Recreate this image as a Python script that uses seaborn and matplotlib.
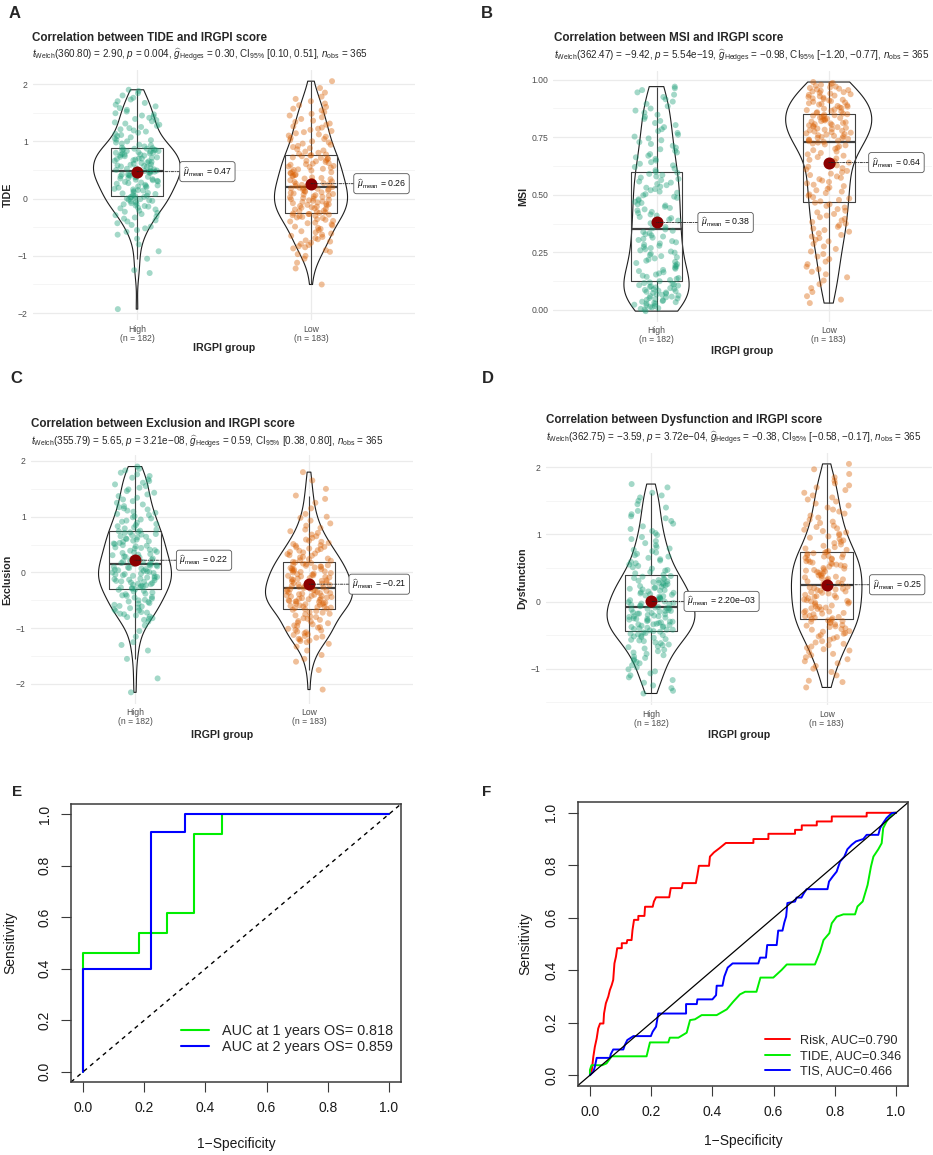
import numpy as np
import pandas as pd
import matplotlib
matplotlib.use("Agg")
import matplotlib.pyplot as plt
from matplotlib.ticker import MultipleLocator, FormatStrFormatter
import seaborn as sns

# ---------------- data ----------------
groups = ["High", "Low"]
group_ticks = ["High\n(n = 182)", "Low\n(n = 183)"]
group_colors = {"High": "#1B9E77", "Low": "#D95F02"}

# panel A: TIDE
tide_high = [-1.93, -1.30, -1.25, -1.05, -0.92, -0.80, -0.70, -0.63, -0.58, -0.55, -0.52, -0.49,
             -0.46, -0.43, -0.40, -0.38, -0.35, -0.33, -0.31, -0.29, -0.27, -0.25, -0.23, -0.21,
             -0.19, -0.17, -0.16, -0.14, -0.13, -0.12, -0.10, -0.09, -0.08, -0.06, -0.05, -0.04,
             -0.03, -0.02, -0.01, 0.00, 0.01, 0.02, 0.03, 0.03, 0.04,
             0.05, 0.06, 0.08, 0.09, 0.10, 0.11, 0.13, 0.14, 0.15, 0.16, 0.17, 0.19, 0.20, 0.21,
             0.22, 0.23, 0.24, 0.26, 0.27, 0.28, 0.29, 0.30, 0.31, 0.32, 0.33, 0.34, 0.35, 0.36,
             0.37, 0.38, 0.38, 0.39, 0.40, 0.41, 0.42, 0.42, 0.43, 0.44, 0.45, 0.45, 0.46, 0.46,
             0.47, 0.47, 0.48, 0.48,
             0.49, 0.50, 0.51, 0.52, 0.53, 0.54, 0.55, 0.56, 0.57, 0.58, 0.59, 0.60, 0.61, 0.62,
             0.63, 0.64, 0.65, 0.66, 0.67, 0.68, 0.69, 0.70, 0.70, 0.71, 0.72, 0.73, 0.74, 0.75,
             0.76, 0.77, 0.77, 0.78, 0.79, 0.80, 0.80, 0.81, 0.82, 0.83, 0.83, 0.84, 0.85, 0.85,
             0.86, 0.87, 0.87, 0.88,
             0.89, 0.91, 0.93, 0.94, 0.96, 0.98, 1.00, 1.02, 1.03, 1.05, 1.07, 1.09, 1.11, 1.13,
             1.15, 1.17, 1.19, 1.21, 1.23, 1.25, 1.27, 1.29, 1.31, 1.33, 1.35, 1.37, 1.39, 1.41,
             1.43, 1.45, 1.47, 1.49, 1.52, 1.55, 1.58, 1.61, 1.64, 1.67, 1.70, 1.73, 1.76, 1.80,
             1.84, 1.88, 1.90]
tide_low = [-1.50, -1.22, -1.12, -1.05, -1.00, -0.97, -0.93, -0.90, -0.87, -0.85, -0.83, -0.81,
            -0.79, -0.77, -0.75, -0.73, -0.71, -0.69, -0.67, -0.65, -0.63, -0.61, -0.59, -0.57,
            -0.55, -0.53, -0.51, -0.49, -0.47, -0.45, -0.43, -0.42, -0.40, -0.39, -0.37, -0.36,
            -0.34, -0.33, -0.32, -0.31, -0.30, -0.29, -0.28, -0.27, -0.27, -0.26,
            -0.25, -0.24, -0.23, -0.22, -0.21, -0.19, -0.18, -0.17, -0.16, -0.15, -0.14, -0.13,
            -0.12, -0.11, -0.10, -0.09, -0.08, -0.07, -0.06, -0.05, -0.04, -0.03, -0.02, -0.01,
            0.00, 0.01, 0.02, 0.03, 0.04, 0.05, 0.06, 0.07, 0.08, 0.09, 0.10, 0.11, 0.12, 0.13,
            0.14, 0.15, 0.16, 0.17, 0.18, 0.18, 0.19, 0.20,
            0.21, 0.22, 0.24, 0.25, 0.26, 0.27, 0.29, 0.30, 0.31, 0.32, 0.34, 0.35, 0.36, 0.37,
            0.39, 0.40, 0.41, 0.42, 0.44, 0.45, 0.46, 0.47, 0.49, 0.50, 0.51, 0.52, 0.54, 0.55,
            0.56, 0.57, 0.59, 0.60, 0.61, 0.62, 0.64, 0.65, 0.66, 0.67, 0.69, 0.70, 0.71, 0.72,
            0.74, 0.75, 0.76, 0.77,
            0.78, 0.80, 0.82, 0.84, 0.86, 0.88, 0.90, 0.92, 0.94, 0.96, 0.98, 1.00, 1.02, 1.04,
            1.06, 1.08, 1.10, 1.12, 1.14, 1.16, 1.18, 1.20, 1.22, 1.24, 1.26, 1.29, 1.31, 1.34,
            1.36, 1.39, 1.42, 1.45, 1.48, 1.51, 1.54, 1.57, 1.60, 1.63, 1.66, 1.70, 1.74, 1.78,
            1.85, 1.93, 2.05]

# panel B: MSI
msi_high = [-0.005, 0.002, 0.005, 0.008, 0.011, 0.014, 0.017, 0.020, 0.023, 0.026, 0.028, 0.031,
            0.034, 0.036, 0.039, 0.042, 0.044, 0.047, 0.050, 0.052, 0.055, 0.058, 0.060, 0.063,
            0.066, 0.068, 0.071, 0.074, 0.076, 0.079, 0.082, 0.084, 0.087, 0.090, 0.092, 0.095,
            0.098, 0.100, 0.103, 0.106, 0.108, 0.111, 0.114, 0.117, 0.120,
            0.125, 0.130, 0.135, 0.139, 0.144, 0.149, 0.154, 0.159, 0.164, 0.169, 0.174, 0.179,
            0.184, 0.189, 0.194, 0.199, 0.204, 0.209, 0.214, 0.219, 0.224, 0.229, 0.234, 0.239,
            0.244, 0.249, 0.254, 0.259, 0.264, 0.269, 0.274, 0.279, 0.284, 0.289, 0.294, 0.299,
            0.304, 0.309, 0.314, 0.319, 0.324, 0.329, 0.334, 0.339, 0.344, 0.350,
            0.355, 0.360, 0.366, 0.371, 0.377, 0.382, 0.388, 0.393, 0.399, 0.404, 0.410, 0.415,
            0.421, 0.426, 0.432, 0.437, 0.443, 0.448, 0.454, 0.459, 0.465, 0.470, 0.476, 0.481,
            0.487, 0.492, 0.498, 0.503, 0.509, 0.514, 0.520, 0.525, 0.531, 0.536, 0.542, 0.547,
            0.553, 0.558, 0.564, 0.569, 0.575, 0.580, 0.586, 0.591, 0.596, 0.600,
            0.607, 0.614, 0.621, 0.628, 0.635, 0.642, 0.649, 0.656, 0.663, 0.670, 0.677, 0.684,
            0.691, 0.698, 0.705, 0.713, 0.721, 0.729, 0.737, 0.745, 0.753, 0.761, 0.769, 0.777,
            0.785, 0.794, 0.803, 0.812, 0.821, 0.830, 0.839, 0.848, 0.857, 0.866, 0.875, 0.885,
            0.895, 0.905, 0.915, 0.925, 0.935, 0.945, 0.955, 0.963, 0.970]
msi_low = [0.030, 0.045, 0.060, 0.078, 0.095, 0.112, 0.128, 0.142,
           0.155, 0.166, 0.177, 0.188, 0.199, 0.210, 0.221, 0.232, 0.243, 0.254, 0.265, 0.276,
           0.287, 0.298,
           0.305, 0.312, 0.319, 0.326, 0.333, 0.340, 0.347, 0.354, 0.361, 0.368, 0.375, 0.382,
           0.389, 0.396, 0.403, 0.410, 0.417, 0.424, 0.431, 0.438, 0.445, 0.452, 0.459, 0.466,
           0.472, 0.478, 0.484, 0.490, 0.496, 0.502, 0.508, 0.514, 0.520, 0.526, 0.532, 0.538,
           0.544, 0.550, 0.556, 0.562, 0.568, 0.574, 0.580, 0.586, 0.592, 0.598, 0.604, 0.610,
           0.616, 0.622, 0.628, 0.634, 0.640, 0.646, 0.652, 0.658, 0.664, 0.670, 0.676, 0.682,
           0.688, 0.694, 0.700, 0.705, 0.710, 0.715, 0.719, 0.723, 0.727, 0.730,
           0.733, 0.735, 0.738, 0.740, 0.743, 0.746, 0.748, 0.751, 0.754, 0.756, 0.759, 0.762,
           0.764, 0.767, 0.770, 0.772, 0.775, 0.778, 0.780, 0.783, 0.786, 0.788, 0.791, 0.794,
           0.796, 0.799, 0.802, 0.804, 0.807, 0.810, 0.812, 0.815, 0.818, 0.820, 0.823, 0.826,
           0.828, 0.831, 0.834, 0.836, 0.839, 0.842, 0.844, 0.846, 0.848, 0.850,
           0.853, 0.856, 0.859, 0.862, 0.865, 0.868, 0.871, 0.874, 0.877, 0.880, 0.883, 0.886,
           0.889, 0.892, 0.895, 0.898, 0.901, 0.904, 0.907, 0.910, 0.913, 0.916, 0.919, 0.922,
           0.925, 0.928, 0.931, 0.934, 0.937, 0.940, 0.943, 0.946, 0.949, 0.952, 0.955, 0.958,
           0.961, 0.964, 0.967, 0.970, 0.974, 0.978, 0.982, 0.986, 0.990]

# panel C: Exclusion
excl_high = [-2.15, -1.90, -1.55, -1.40, -1.30, -1.25, -1.15, -1.05, -0.95, -0.88,
             -0.85, -0.83, -0.82, -0.80, -0.79, -0.77, -0.75, -0.74, -0.72, -0.71, -0.69, -0.68,
             -0.66, -0.64, -0.63, -0.61, -0.60, -0.58, -0.56, -0.55, -0.53, -0.52, -0.50, -0.49,
             -0.47, -0.45, -0.44, -0.42, -0.41, -0.39, -0.38, -0.36, -0.34, -0.33, -0.31,
             -0.30, -0.29, -0.28, -0.27, -0.26, -0.25, -0.24, -0.23, -0.22, -0.21, -0.20, -0.19,
             -0.18, -0.17, -0.16, -0.15, -0.14, -0.13, -0.12, -0.11, -0.10, -0.09, -0.08, -0.07,
             -0.06, -0.05, -0.04, -0.03, -0.02, -0.01, 0.00, 0.01, 0.02, 0.03, 0.04, 0.05, 0.06,
             0.07, 0.08, 0.09, 0.10, 0.11, 0.12, 0.13, 0.14, 0.15,
             0.16, 0.17, 0.19, 0.20, 0.21, 0.23, 0.24, 0.25, 0.27, 0.28, 0.29, 0.31, 0.32, 0.33,
             0.35, 0.36, 0.37, 0.39, 0.40, 0.41, 0.43, 0.44, 0.45, 0.47, 0.48, 0.49, 0.51, 0.52,
             0.53, 0.55, 0.56, 0.57, 0.59, 0.60, 0.61, 0.63, 0.64, 0.65, 0.67, 0.68, 0.69, 0.71,
             0.72, 0.73, 0.74, 0.75,
             0.77, 0.79, 0.81, 0.83, 0.85, 0.87, 0.89, 0.91, 0.93, 0.95, 0.97, 0.99, 1.01, 1.03,
             1.05, 1.07, 1.09, 1.11, 1.13, 1.15, 1.17, 1.19, 1.22, 1.25, 1.28, 1.31, 1.34, 1.37,
             1.40, 1.43, 1.46, 1.49, 1.52, 1.55, 1.58, 1.61, 1.64, 1.67, 1.70, 1.73, 1.76, 1.79,
             1.83, 1.86, 1.90]
excl_low = [-2.10, -1.75, -1.60, -1.55, -1.48, -1.40, -1.33, -1.28,
            -1.25, -1.23, -1.22, -1.20, -1.19, -1.17, -1.15, -1.14, -1.12, -1.11, -1.09, -1.07,
            -1.06, -1.04, -1.03, -1.01, -0.99, -0.98, -0.96, -0.95, -0.93, -0.91, -0.90, -0.88,
            -0.87, -0.85, -0.83, -0.82, -0.80, -0.79, -0.77, -0.75, -0.74, -0.72, -0.71, -0.69,
            -0.67, -0.66,
            -0.65, -0.64, -0.63, -0.62, -0.62, -0.61, -0.60, -0.59, -0.58, -0.57, -0.57, -0.56,
            -0.55, -0.54, -0.53, -0.52, -0.52, -0.51, -0.50, -0.49, -0.48, -0.47, -0.47, -0.46,
            -0.45, -0.44, -0.43, -0.42, -0.42, -0.41, -0.40, -0.39, -0.38, -0.37, -0.37, -0.36,
            -0.35, -0.34, -0.33, -0.32, -0.32, -0.31, -0.30, -0.29, -0.28, -0.27,
            -0.26, -0.25, -0.24, -0.23, -0.22, -0.21, -0.20, -0.19, -0.18, -0.17, -0.16, -0.15,
            -0.14, -0.13, -0.12, -0.11, -0.10, -0.09, -0.08, -0.07, -0.06, -0.05, -0.04, -0.03,
            -0.02, -0.01, 0.00, 0.01, 0.02, 0.03, 0.04, 0.05, 0.06, 0.07, 0.08, 0.09, 0.10, 0.11,
            0.12, 0.13, 0.14, 0.15, 0.16, 0.17, 0.18, 0.19,
            0.21, 0.22, 0.24, 0.25, 0.27, 0.28, 0.30, 0.31, 0.33, 0.34, 0.36, 0.37, 0.39, 0.40,
            0.42, 0.43, 0.45, 0.46, 0.48, 0.49, 0.51, 0.53, 0.55, 0.57, 0.59, 0.62, 0.65, 0.68,
            0.71, 0.74, 0.77, 0.80, 0.84, 0.88, 0.93, 0.98, 1.00, 1.05, 1.15, 1.25, 1.32, 1.38,
            1.50, 1.65, 1.80]

# panel D: Dysfunction
dys_high = [-1.37, -1.33, -1.29, -1.25, -1.21, -1.17, -1.13, -1.10, -1.07, -1.04, -1.01, -0.98,
            -0.95, -0.92, -0.90, -0.88, -0.86, -0.84, -0.82, -0.80, -0.78, -0.76, -0.74, -0.72,
            -0.70, -0.68, -0.67, -0.65, -0.64, -0.62, -0.61, -0.59, -0.58, -0.57, -0.56, -0.54,
            -0.53, -0.52, -0.51, -0.50, -0.49, -0.48, -0.47, -0.46, -0.45,
            -0.44, -0.43, -0.42, -0.42, -0.41, -0.40, -0.39, -0.38, -0.38, -0.37, -0.36, -0.35,
            -0.34, -0.34, -0.33, -0.32, -0.31, -0.30, -0.30, -0.29, -0.28, -0.27, -0.26, -0.26,
            -0.25, -0.24, -0.23, -0.22, -0.22, -0.21, -0.20, -0.19, -0.18, -0.18, -0.17, -0.16,
            -0.15, -0.14, -0.14, -0.13, -0.12, -0.11, -0.10, -0.10, -0.09, -0.08,
            -0.07, -0.06, -0.05, -0.04, -0.03, -0.02, -0.01, 0.00, 0.01, 0.02, 0.03, 0.04, 0.05,
            0.06, 0.07, 0.08, 0.09, 0.10, 0.11, 0.12, 0.13, 0.14, 0.15, 0.16, 0.17, 0.18, 0.19,
            0.20, 0.21, 0.22, 0.23, 0.24, 0.25, 0.26, 0.27, 0.28, 0.29, 0.30, 0.31, 0.32, 0.33,
            0.34, 0.35, 0.37, 0.38, 0.40,
            0.42, 0.44, 0.46, 0.47, 0.49, 0.51, 0.53, 0.55, 0.57, 0.59, 0.61, 0.63, 0.65, 0.67,
            0.69, 0.71, 0.73, 0.75, 0.77, 0.79, 0.81, 0.84, 0.87, 0.90, 0.93, 0.96, 0.99, 1.02,
            1.05, 1.08, 1.12, 1.16, 1.20, 1.24, 1.27, 1.30, 1.35, 1.40, 1.45, 1.50, 1.55, 1.58,
            1.62, 1.70, 1.75]
dys_low = [-1.28, -1.20, -1.18, -1.10, -1.05, -1.00, -0.96, -0.92, -0.89, -0.86, -0.83, -0.80,
           -0.78, -0.75, -0.73, -0.71, -0.69, -0.67, -0.65, -0.63, -0.61, -0.59, -0.57, -0.55,
           -0.53, -0.52, -0.50, -0.48, -0.47, -0.45, -0.44, -0.42, -0.41, -0.40, -0.38, -0.37,
           -0.36, -0.35, -0.34, -0.32, -0.31, -0.30, -0.29, -0.28, -0.27, -0.26,
           -0.25, -0.24, -0.23, -0.22, -0.21, -0.19, -0.18, -0.17, -0.16, -0.15, -0.14, -0.12,
           -0.11, -0.10, -0.09, -0.08, -0.07, -0.06, -0.04, -0.03, -0.02, -0.01, 0.00, 0.01,
           0.02, 0.03, 0.05, 0.06, 0.07, 0.08, 0.09, 0.10, 0.12, 0.13, 0.14, 0.15, 0.16, 0.17,
           0.18, 0.19, 0.20, 0.21, 0.22, 0.23, 0.24, 0.25,
           0.26, 0.27, 0.28, 0.29, 0.30, 0.32, 0.33, 0.34, 0.35, 0.36, 0.37, 0.38, 0.39, 0.40,
           0.42, 0.43, 0.44, 0.45, 0.46, 0.47, 0.48, 0.49, 0.50, 0.52, 0.53, 0.54, 0.55, 0.56,
           0.57, 0.58, 0.59, 0.60, 0.62, 0.63, 0.64, 0.65, 0.66, 0.67, 0.68, 0.69, 0.70, 0.71,
           0.72, 0.73, 0.74, 0.75,
           0.77, 0.79, 0.81, 0.83, 0.85, 0.87, 0.89, 0.91, 0.93, 0.95, 0.97, 0.99, 1.01, 1.03,
           1.05, 1.07, 1.09, 1.11, 1.13, 1.15, 1.17, 1.19, 1.22, 1.25, 1.28, 1.31, 1.34, 1.37,
           1.40, 1.43, 1.46, 1.49, 1.52, 1.55, 1.58, 1.62, 1.66, 1.70, 1.73, 1.76, 1.80, 1.85,
           1.90, 1.97, 2.05]

# group means shown as labels
tide_means = [0.47, 0.26]
msi_means = [0.38, 0.64]
excl_means = [0.22, -0.21]
dys_means = [0.0022, 0.25]
tide_mean_text = ["0.47", "0.26"]
msi_mean_text = ["0.38", "0.64"]
excl_mean_text = ["0.22", "\u22120.21"]
dys_mean_text = ["2.20e\u221203", "0.25"]

titles = ["Correlation between TIDE and IRGPI score",
          "Correlation between MSI and IRGPI score",
          "Correlation between Exclusion and IRGPI score",
          "Correlation between Dysfunction and IRGPI score"]
subtitles = [
    r"$t_{\mathrm{Welch}}$(360.80) = 2.90, $p$ = 0.004, $\widehat{g}_{\mathrm{Hedges}}$ = 0.30, CI$_{95\%}$ [0.10, 0.51], $n_{\mathrm{obs}}$ = 365",
    r"$t_{\mathrm{Welch}}$(362.47) = $-$9.42, $p$ = 5.54e$-$19, $\widehat{g}_{\mathrm{Hedges}}$ = $-$0.98, CI$_{95\%}$ [$-$1.20, $-$0.77], $n_{\mathrm{obs}}$ = 365",
    r"$t_{\mathrm{Welch}}$(355.79) = 5.65, $p$ = 3.21e$-$08, $\widehat{g}_{\mathrm{Hedges}}$ = 0.59, CI$_{95\%}$ [0.38, 0.80], $n_{\mathrm{obs}}$ = 365",
    r"$t_{\mathrm{Welch}}$(362.75) = $-$3.59, $p$ = 3.72e$-$04, $\widehat{g}_{\mathrm{Hedges}}$ = $-$0.38, CI$_{95\%}$ [$-$0.58, $-$0.17], $n_{\mathrm{obs}}$ = 365",
]
ylabels = ["TIDE", "MSI", "Exclusion", "Dysfunction"]

# panel E: time-dependent ROC
roc1y_fpr = [0.0, 0.0, 0.182, 0.182, 0.273, 0.273, 0.364, 0.364, 0.455, 0.455, 1.0]
roc1y_tpr = [0.0, 0.462, 0.462, 0.538, 0.538, 0.615, 0.615, 0.923, 0.923, 1.0, 1.0]
roc2y_fpr = [0.0, 0.0, 0.222, 0.222, 0.333, 0.333, 1.0]
roc2y_tpr = [0.0, 0.4, 0.4, 0.933, 0.933, 1.0, 1.0]
roc_e_labels = ["AUC at 1 years OS= 0.818", "AUC at 2 years OS= 0.859"]

# panel F: ROC of Risk, TIDE and TIS
risk_fpr = [0.0, 0.005, 0.011, 0.016, 0.022, 0.027, 0.033, 0.044, 0.046, 0.052, 0.06, 0.065,
            0.071, 0.076, 0.08, 0.085, 0.089, 0.104, 0.104, 0.12, 0.122, 0.136, 0.139, 0.144,
            0.158, 0.158, 0.178, 0.18, 0.205, 0.209, 0.216, 0.259, 0.264, 0.3, 0.303, 0.346,
            0.351, 0.356, 0.389, 0.392, 0.405, 0.423, 0.444, 0.534, 0.534, 0.583, 0.583, 0.67,
            0.67, 0.692, 0.692, 0.741, 0.741, 0.79, 0.79, 0.904, 0.904, 1.0]
risk_tpr = [0.0, 0.008, 0.07, 0.108, 0.14, 0.178, 0.197, 0.197, 0.235, 0.274, 0.3, 0.324,
            0.343, 0.363, 0.426, 0.452, 0.484, 0.484, 0.503, 0.503, 0.515, 0.515, 0.553, 0.592,
            0.592, 0.607, 0.607, 0.642, 0.642, 0.662, 0.678, 0.678, 0.713, 0.713, 0.732, 0.732,
            0.763, 0.798, 0.798, 0.833, 0.849, 0.865, 0.885, 0.885, 0.9, 0.9, 0.92, 0.92,
            0.935, 0.935, 0.952, 0.952, 0.967, 0.967, 0.986, 0.986, 1.0, 1.0]
tide_fpr = [0.0, 0.0, 0.005, 0.04, 0.054, 0.071, 0.185, 0.196, 0.256, 0.261, 0.289, 0.316,
            0.327, 0.343, 0.365, 0.414, 0.447, 0.468, 0.49, 0.507, 0.544, 0.557, 0.599, 0.626,
            0.643, 0.735, 0.752, 0.763, 0.782, 0.79, 0.806, 0.828, 0.866, 0.874, 0.891, 0.907,
            0.918, 0.926, 0.942, 0.953, 0.958, 0.969, 0.98, 0.991, 1.0]
tide_tpr = [0.0, 0.02, 0.038, 0.038, 0.045, 0.072, 0.072, 0.125, 0.125, 0.143, 0.143, 0.162,
            0.21, 0.213, 0.229, 0.229, 0.251, 0.28, 0.308, 0.318, 0.318, 0.372, 0.372, 0.401,
            0.422, 0.422, 0.471, 0.515, 0.541, 0.579, 0.604, 0.613, 0.613, 0.643, 0.662, 0.725,
            0.795, 0.833, 0.861, 0.884, 0.942, 0.967, 0.986, 1.0, 1.0]
tis_fpr = [0.0, 0.011, 0.016, 0.022, 0.065, 0.068, 0.076, 0.109, 0.114, 0.122, 0.142, 0.199,
           0.205, 0.216, 0.223, 0.314, 0.314, 0.349, 0.351, 0.4, 0.412, 0.414, 0.433, 0.439,
           0.45, 0.466, 0.55, 0.556, 0.575, 0.579, 0.61, 0.615, 0.629, 0.635, 0.641, 0.645,
           0.67, 0.675, 0.691, 0.699, 0.708, 0.776, 0.781, 0.793, 0.806, 0.817, 0.831, 0.841,
           0.855, 0.869, 0.893, 0.904, 0.942, 0.948, 0.958, 0.969, 0.986, 1.0]
tis_tpr = [0.0, 0.013, 0.032, 0.066, 0.066, 0.08, 0.098, 0.098, 0.115, 0.134, 0.149, 0.149,
           0.166, 0.185, 0.235, 0.235, 0.271, 0.271, 0.289, 0.289, 0.305, 0.341, 0.341, 0.376,
           0.41, 0.426, 0.426, 0.448, 0.448, 0.496, 0.496, 0.551, 0.551, 0.582, 0.605, 0.656,
           0.662, 0.677, 0.677, 0.694, 0.709, 0.709, 0.738, 0.757, 0.776, 0.814, 0.833, 0.861,
           0.878, 0.891, 0.9, 0.916, 0.916, 0.942, 0.961, 0.98, 0.999, 1.0]
roc_f_labels = ["Risk, AUC=0.790", "TIDE, AUC=0.346", "TIS, AUC=0.466"]

roc_ticks = [0.0, 0.2, 0.4, 0.6, 0.8, 1.0]
roc_tick_labels = ["0.0", "0.2", "0.4", "0.6", "0.8", "1.0"]

# ---------------- style ----------------
sns.set_style("white")
plt.rcParams["font.family"] = ["Liberation Sans", "DejaVu Sans"]
plt.rcParams["mathtext.fontset"] = "custom"
plt.rcParams["mathtext.rm"] = "Liberation Sans"
plt.rcParams["mathtext.it"] = "Liberation Sans:italic"
plt.rcParams["mathtext.bf"] = "Liberation Sans:bold"
plt.rcParams["axes.unicode_minus"] = True
np.random.seed(7)  # only for the strip jitter

W, H = 933, 1155
fig = plt.figure(figsize=(W / 100, H / 100), dpi=100)


def rect(left, top, right, bottom):
    return [left / W, 1 - bottom / H, (right - left) / W, (bottom - top) / H]


def violin_panel(ax, high, low, means, mean_text, ylim, ystep, ylabel,
                 label_dx, ylab_x, xlab_y, fmt=None):
    df = pd.DataFrame({"group": ["High"] * len(high) + ["Low"] * len(low),
                       "value": high + low})
    sns.stripplot(data=df, x="group", y="value", hue="group", order=groups,
                  palette=group_colors, jitter=0.13, size=4.3, alpha=0.4,
                  linewidth=0, legend=False, ax=ax)
    sns.boxplot(data=df, x="group", y="value", order=groups, width=0.3,
                fill=False, color="#404040", linewidth=0.8, showfliers=False,
                showcaps=False, medianprops={"linewidth": 1.6}, ax=ax)
    sns.violinplot(data=df, x="group", y="value", order=groups, width=0.5,
                   fill=False, color="#1E1E1E", linewidth=0.8, inner=None,
                   cut=0, density_norm="area", bw_method=0.32, ax=ax)
    ax.scatter([0, 1], means, s=75, color="#8B0000", zorder=5, linewidths=0)
    for i, (m, txt, dx) in enumerate(zip(means, mean_text, label_dx)):
        ax.annotate(r"$\widehat{\mu}_{\mathrm{mean}}$ = " + txt, xy=(i, m),
                    xytext=(dx, 0), textcoords="offset points",
                    ha="left", va="center", fontsize=6.3, color="#111111",
                    zorder=6,
                    bbox=dict(boxstyle="round,pad=0.35,rounding_size=0.3",
                              fc="white", ec="#555555", lw=0.6),
                    arrowprops=dict(arrowstyle="-", color="#222222", lw=0.6,
                                    linestyle=(0, (3, 1.5, 1, 1.5)),
                                    shrinkA=0, shrinkB=0))
    ax.set_xlim(-0.6, 1.6)
    ax.set_ylim(*ylim)
    ax.yaxis.set_major_locator(MultipleLocator(ystep))
    ax.yaxis.set_minor_locator(MultipleLocator(ystep / 2))
    if fmt:
        ax.yaxis.set_major_formatter(FormatStrFormatter(fmt))
    ax.set_xticks([0, 1], group_ticks)
    for lab in ax.get_xticklabels():
        lab.set_linespacing(1.0)
    ax.grid(which="major", color="#EBEBEB", linewidth=0.9)
    ax.grid(which="minor", axis="y", color="#F4F4F4", linewidth=0.6)
    ax.set_axisbelow(True)
    for sp in ax.spines.values():
        sp.set_visible(False)
    ax.tick_params(which="major", length=2, width=0.6, color="#333333",
                   labelsize=6.2, labelcolor="#4D4D4D", pad=1.5)
    ax.tick_params(which="minor", length=0)
    ax.set_xlabel("IRGPI group", fontsize=7.7, fontweight="bold")
    ax.set_ylabel(ylabel, fontsize=7.7, fontweight="bold")
    ax.xaxis.set_label_coords(0.5, xlab_y)
    ax.xaxis.label.set_va("center")
    ax.yaxis.set_label_coords(ylab_x, 0.5)
    ax.yaxis.label.set_va("center")


def roc_axes(ax, ylab_x, xlab_y):
    ax.set_xlim(-0.04, 1.04)
    ax.set_ylim(-0.04, 1.04)
    ax.set_xticks(roc_ticks, roc_tick_labels)
    ax.set_yticks(roc_ticks, roc_tick_labels)
    for sp in ax.spines.values():
        sp.set_visible(True)
        sp.set_color("#3A3A3A")
        sp.set_linewidth(1.1)
    ax.tick_params(direction="out", length=7, width=0.8, color="#3A3A3A",
                   labelsize=10, labelcolor="#1A1A1A", pad=7,
                   bottom=True, left=True)
    for lab in ax.get_yticklabels():
        lab.set_rotation(90)
        lab.set_va("center")
    ax.set_xlabel("1\u2212Specificity", fontsize=10, color="#1A1A1A")
    ax.set_ylabel("Sensitivity", fontsize=10, color="#1A1A1A")
    ax.xaxis.set_label_coords(0.5, xlab_y)
    ax.xaxis.label.set_va("center")
    ax.yaxis.set_label_coords(ylab_x, 0.5)
    ax.yaxis.label.set_va("center")


# ---------------- panels A-D ----------------
axA = fig.add_axes(rect(32.6, 70, 415.4, 320))
violin_panel(axA, tide_high, tide_low, tide_means, tide_mean_text,
             (-2.12, 2.245), 1, ylabels[0], [33, 33], -0.064, -0.112)
axB = fig.add_axes(rect(553.2, 70.5, 932, 321.5))
violin_panel(axB, msi_high, msi_low, msi_means, msi_mean_text,
             (-0.05, 1.04), 0.25, ylabels[1], [32, 31], -0.08, -0.1175, fmt="%.2f")
axC = fig.add_axes(rect(30.6, 455.4, 413.4, 703.5))
violin_panel(axC, excl_high, excl_low, excl_means, excl_mean_text,
             (-2.35, 2.1), 1, ylabels[2], [32, 31], -0.061, -0.127)
axD = fig.add_axes(rect(545.6, 452.5, 932.1, 704.9))
violin_panel(axD, dys_high, dys_low, dys_means, dys_mean_text,
             (-1.54, 2.22), 1, ylabels[3], [26, 33], -0.061, -0.119)

title_pos = [(32, 38), (554, 38.3), (31, 423.7), (546, 420.3)]
subtitle_y = [55.5, 56, 442, 438.7]
for (tx, ty), sy, t, s in zip(title_pos, subtitle_y, titles, subtitles):
    fig.text(tx / W, 1 - ty / H, t, fontsize=8.4, fontweight="bold",
             ha="left", va="center")
    fig.text(tx / W, 1 - sy / H, s, fontsize=7.1, ha="left", va="center")

# ---------------- panel E ----------------
axE = fig.add_axes(rect(71, 804, 401, 1082))
sns.lineplot(x=roc1y_fpr, y=roc1y_tpr, sort=False, estimator=None,
             color="#00EE00", linewidth=1.5, label=roc_e_labels[0], ax=axE)
sns.lineplot(x=roc2y_fpr, y=roc2y_tpr, sort=False, estimator=None,
             color="#0000FF", linewidth=1.5, label=roc_e_labels[1], ax=axE)
axE.axline((0, 0), (1, 1), color="black", linestyle=(0, (3, 3)), linewidth=1.0)
roc_axes(axE, -0.185, -0.223)
axE.legend(loc="lower right", bbox_to_anchor=(0.977, 0.1), frameon=False,
           fontsize=10.4, handlelength=1.95, handletextpad=0.9,
           labelspacing=0.12, borderpad=0, borderaxespad=0)

# ---------------- panel F ----------------
axF = fig.add_axes(rect(577.7, 802.3, 908.3, 1085.7))
sns.lineplot(x=risk_fpr, y=risk_tpr, sort=False, estimator=None,
             color="#FF0000", linewidth=1.4, label=roc_f_labels[0], ax=axF)
sns.lineplot(x=tide_fpr, y=tide_tpr, sort=False, estimator=None,
             color="#00EE00", linewidth=1.4, label=roc_f_labels[1], ax=axF)
sns.lineplot(x=tis_fpr, y=tis_tpr, sort=False, estimator=None,
             color="#0000FF", linewidth=1.4, label=roc_f_labels[2], ax=axF)
axF.axline((0, 0), (1, 1), color="black", linewidth=0.9)
roc_axes(axF, -0.158, -0.195)
axF.legend(loc="lower right", bbox_to_anchor=(0.978, 0.03), frameon=False,
           fontsize=9.2, handlelength=1.95, handletextpad=0.8,
           labelspacing=0.25, borderpad=0, borderaxespad=0)

# panel letters
for letter, (lx, ly), fs in zip("ABCDEF",
                                [(15, 14), (487, 13), (16, 379), (488, 379),
                                 (17, 792), (487, 792)],
                                [12, 12, 12, 12, 11, 11]):
    fig.text(lx / W, 1 - ly / H, letter, fontsize=fs, fontweight="bold",
             ha="center", va="center")

fig.savefig("out.png", dpi=100)
plt.close(fig)
